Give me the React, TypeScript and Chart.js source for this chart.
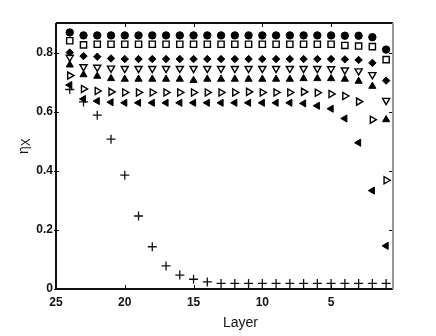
import React, { useEffect, useRef } from 'react';
import { Chart, registerables } from 'chart.js';

Chart.register(...registerables);

const layers = [24, 23, 22, 21, 20, 19, 18, 17, 16, 15, 14, 13, 12, 11, 10, 9, 8, 7, 6, 5, 4, 3, 2, 1];

const circleVals = [0.868, 0.858, 0.858, 0.858, 0.858, 0.858, 0.858, 0.858, 0.858, 0.858, 0.858, 0.858, 0.858, 0.858, 0.858, 0.858, 0.858, 0.858, 0.858, 0.858, 0.857, 0.857, 0.852, 0.81];
const squareVals = [0.84, 0.826, 0.828, 0.828, 0.828, 0.828, 0.828, 0.828, 0.828, 0.828, 0.828, 0.828, 0.828, 0.828, 0.828, 0.828, 0.828, 0.828, 0.828, 0.828, 0.824, 0.822, 0.82, 0.776];
const diamondVals = [0.8, 0.788, 0.786, 0.78, 0.778, 0.778, 0.778, 0.778, 0.778, 0.778, 0.778, 0.778, 0.778, 0.778, 0.778, 0.778, 0.778, 0.778, 0.778, 0.778, 0.777, 0.775, 0.765, 0.705];
const downTriVals = [0.784, 0.752, 0.75, 0.747, 0.746, 0.746, 0.746, 0.746, 0.746, 0.746, 0.746, 0.746, 0.746, 0.746, 0.746, 0.746, 0.746, 0.746, 0.746, 0.745, 0.741, 0.738, 0.725, 0.638];
const upTriVals = [0.758, 0.725, 0.72, 0.712, 0.71, 0.71, 0.71, 0.71, 0.71, 0.706, 0.71, 0.71, 0.71, 0.71, 0.71, 0.71, 0.71, 0.712, 0.712, 0.712, 0.71, 0.703, 0.686, 0.573];
const rightTriVals = [0.722, 0.677, 0.67, 0.667, 0.665, 0.665, 0.665, 0.665, 0.665, 0.665, 0.665, 0.665, 0.665, 0.667, 0.665, 0.665, 0.665, 0.667, 0.664, 0.66, 0.653, 0.634, 0.573, 0.368];
const leftTriVals = [0.69, 0.643, 0.636, 0.632, 0.63, 0.63, 0.63, 0.63, 0.63, 0.63, 0.63, 0.63, 0.63, 0.63, 0.63, 0.63, 0.63, 0.628, 0.62, 0.61, 0.577, 0.495, 0.333, 0.146];
const plusVals = [0.675, 0.633, 0.588, 0.507, 0.385, 0.247, 0.143, 0.078, 0.047, 0.033, 0.024, 0.019, 0.019, 0.019, 0.019, 0.019, 0.019, 0.019, 0.019, 0.019, 0.019, 0.019, 0.019, 0.019];

const xTickValues = [25, 20, 15, 10, 5];
const yTickValues = [0, 0.2, 0.4, 0.6, 0.8];
const xTitle = 'Layer';
const yTitleMain = 'η';
const yTitleSub = 'X';

const toPoints = (vals: number[]) => layers.map((l, i) => ({ x: l, y: vals[i] }));

const framePlugin = {
  id: 'frameTicks',
  afterDraw(chart: any) {
    const { ctx, chartArea: a, scales } = chart;
    ctx.save();
    const line = (x1: number, y1: number, x2: number, y2: number) => {
      ctx.beginPath();
      ctx.moveTo(x1, y1);
      ctx.lineTo(x2, y2);
      ctx.stroke();
    };
    ctx.strokeStyle = '#111';
    ctx.lineWidth = 1;
    xTickValues.forEach((v) => {
      const px = Math.round(scales.x.getPixelForValue(v)) + 0.5;
      line(px, a.bottom, px, a.bottom - 4);
      line(px, a.top, px, a.top + 4);
    });
    yTickValues.forEach((v) => {
      const py = Math.round(scales.y.getPixelForValue(v)) + 0.5;
      line(a.left - 2, py, a.left + 3, py);
      line(a.right, py, a.right - 4, py);
    });
    ctx.lineWidth = 2;
    ctx.strokeStyle = '#111';
    line(a.left, a.top, a.left, a.bottom + 1);
    line(a.left - 1, a.bottom, a.right, a.bottom);
    line(a.left, a.top, a.right, a.top);
    ctx.strokeStyle = '#9a9a9a';
    line(a.right, a.top, a.right, a.bottom);

    ctx.fillStyle = '#111';
    ctx.font = '14px "Liberation Sans", Arial, sans-serif';
    ctx.textAlign = 'center';
    ctx.textBaseline = 'middle';
    ctx.fillText(xTitle, (a.left + a.right) / 2 + 16, a.bottom + 34);

    ctx.translate(24, a.top + 123);
    ctx.rotate(-Math.PI / 2);
    ctx.textAlign = 'left';
    ctx.font = '14px "Liberation Sans", Arial, sans-serif';
    ctx.fillText(yTitleMain, -8, 0);
    const w = ctx.measureText(yTitleMain).width;
    ctx.font = '12px "Liberation Sans", Arial, sans-serif';
    ctx.fillText(yTitleSub, -8 + w, 3);
    ctx.restore();
  },
};

export default function App() {
  const ref = useRef<HTMLCanvasElement | null>(null);

  useEffect(() => {
    if (!ref.current) return;
    const black = '#000';
    const white = '#fff';
    const chart = new Chart(ref.current, {
      type: 'scatter',
      data: {
        datasets: [
          { label: 'circle', data: toPoints(circleVals), pointStyle: 'circle', pointRadius: 3.7, backgroundColor: black, borderColor: black, borderWidth: 1 },
          { label: 'square', data: toPoints(squareVals), pointStyle: 'rect', pointRadius: 4.4, backgroundColor: white, borderColor: black, borderWidth: 1.4 },
          { label: 'diamond', data: toPoints(diamondVals), pointStyle: 'rectRot', pointRadius: 3.7, backgroundColor: black, borderColor: black, borderWidth: 1 },
          { label: 'down', data: toPoints(downTriVals), pointStyle: 'triangle', pointRotation: 180, pointRadius: 4.1, backgroundColor: white, borderColor: black, borderWidth: 1.4 },
          { label: 'up', data: toPoints(upTriVals), pointStyle: 'triangle', pointRadius: 4.1, backgroundColor: black, borderColor: black, borderWidth: 1 },
          { label: 'right', data: toPoints(rightTriVals), pointStyle: 'triangle', pointRotation: 90, pointRadius: 4.1, backgroundColor: white, borderColor: black, borderWidth: 1.4 },
          { label: 'left', data: toPoints(leftTriVals), pointStyle: 'triangle', pointRotation: 270, pointRadius: 4.1, backgroundColor: black, borderColor: black, borderWidth: 1 },
          { label: 'plus', data: toPoints(plusVals), pointStyle: 'cross', pointRadius: 4.5, backgroundColor: black, borderColor: '#111', borderWidth: 1.3 },
        ],
      },
      options: {
        animation: false,
        responsive: false,
        maintainAspectRatio: false,
        layout: { padding: { top: 23, right: 43, left: 0, bottom: 0 } },
        plugins: { legend: { display: false }, tooltip: { enabled: false } },
        elements: { point: { hoverRadius: 4 } },
        scales: {
          x: {
            type: 'linear',
            reverse: true,
            min: 0.5,
            max: 25,
            grid: { display: false, drawTicks: false },
            border: { display: false },
            afterBuildTicks: (s: any) => {
              s.ticks = xTickValues.map((v) => ({ value: v }));
            },
            afterFit: (s: any) => {
              s.height = 47;
            },
            ticks: {
              autoSkip: false,
              maxRotation: 0,
              padding: 6,
              color: '#111',
              font: { family: '"Liberation Sans", Arial, sans-serif', size: 12, weight: 'bold' },
              callback: (v: any) => String(v),
            },
          },
          y: {
            type: 'linear',
            min: 0,
            max: 0.9,
            grid: { display: false, drawTicks: false },
            border: { display: false },
            afterBuildTicks: (s: any) => {
              s.ticks = yTickValues.map((v) => ({ value: v }));
            },
            afterFit: (s: any) => {
              s.width = 56;
            },
            ticks: {
              autoSkip: false,
              padding: 3,
              color: '#111',
              font: { family: '"Liberation Sans", Arial, sans-serif', size: 12, weight: 'bold' },
              callback: (v: any) => (v === 0 ? '0' : Number(v).toFixed(1)),
            },
          },
        },
      } as any,
      plugins: [framePlugin],
    });
    return () => chart.destroy();
  }, []);

  return (
    <div style={{ position: 'absolute', left: 0, top: 0, width: 436, height: 336, background: '#fff' }}>
      <canvas ref={ref} width={436} height={336} style={{ width: 436, height: 336, display: 'block' }} />
    </div>
  );
}
